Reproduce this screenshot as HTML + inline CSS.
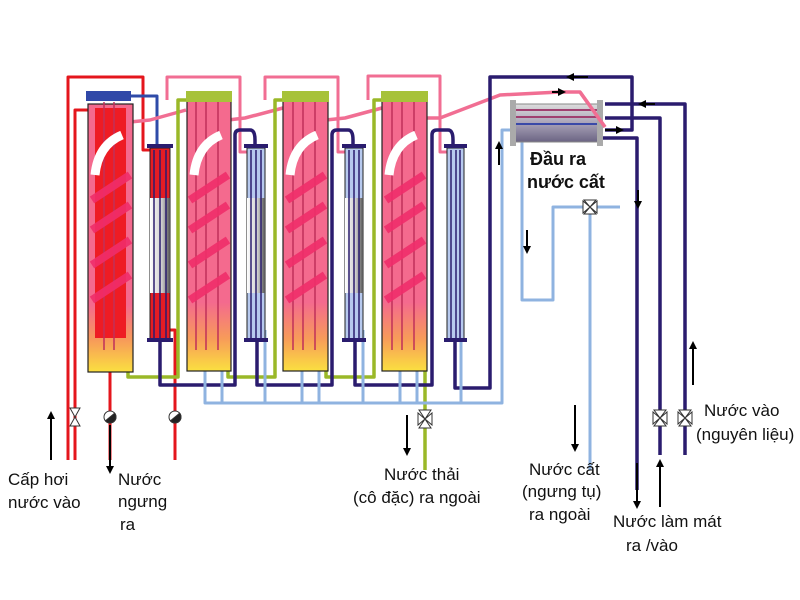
<!DOCTYPE html>
<html><head><meta charset="utf-8"><style>
html,body{margin:0;padding:0;background:#fff;width:800px;height:600px;overflow:hidden}
svg{display:block}
text{font-family:"Liberation Sans","DejaVu Sans",sans-serif;fill:#111}
</style></head><body>
<svg width="800" height="600" viewBox="0 0 800 600" xmlns="http://www.w3.org/2000/svg">
<defs>
<linearGradient id="col" x1="0" y1="0" x2="0" y2="1">
<stop offset="0" stop-color="#f46a8e"/><stop offset="0.75" stop-color="#f46a8e"/><stop offset="0.88" stop-color="#f79a5a"/><stop offset="1" stop-color="#fbe040"/>
</linearGradient>
<linearGradient id="grey" x1="0" y1="0" x2="1" y2="0">
<stop offset="0" stop-color="#fff"/><stop offset="0.6" stop-color="#ccc"/><stop offset="1" stop-color="#555"/>
</linearGradient>
<linearGradient id="hx" x1="0" y1="0" x2="0" y2="1">
<stop offset="0" stop-color="#ddd"/><stop offset="0.5" stop-color="#a9a3b8"/><stop offset="1" stop-color="#6b6483"/>
</linearGradient>
<marker id="ar" viewBox="0 0 10 10" refX="5" refY="5" markerWidth="4" markerHeight="4" orient="auto"><path d="M0,0L10,5L0,10z" fill="#000"/></marker>
</defs>
<g fill="none" stroke-linejoin="round">
<path d="M68,460 V77 H143 V150 H150" stroke="#e4161c" stroke-width="3"/>
<path d="M75,460 V110 H90" stroke="#e4161c" stroke-width="3"/>
<path d="M110,460 V340" stroke="#e4161c" stroke-width="3"/>
<path d="M175,460 V330 H168" stroke="#e4161c" stroke-width="3"/>
<path d="M130,96 H157 V145" stroke="#2f4ba8" stroke-width="3"/>
<path d="M167,100 V77 H240 V152 H247" stroke="#f16e93" stroke-width="3"/>
<path d="M265,100 V77 H338 V152 H345" stroke="#f16e93" stroke-width="3"/>
<path d="M368,100 V76 H440 V152 H447" stroke="#f16e93" stroke-width="3"/>
<path d="M130,122 L150,120 L186,110 M228,120 L245,118 L283,108 M326,120 L345,118 L382,108 M425,118 L440,118 L500,95 L560,92 L580,92 L605,127" stroke="#f16e93" stroke-width="3.5"/>
<path d="M128,370 V377 H178 V100 H187" stroke="#9ab828" stroke-width="3.5"/>
<path d="M228,370 V377 H275 V100 H283" stroke="#9ab828" stroke-width="3.5"/>
<path d="M326,370 V377 H374 V100 H382" stroke="#9ab828" stroke-width="3.5"/>
<path d="M425,370 V470" stroke="#9ab828" stroke-width="3.5"/>
<path d="M160,342 V385 H235 V135 Q235,130 240,130 H250 Q255,130 255,140 V145" stroke="#2a1c6e" stroke-width="3.5"/>
<path d="M257,342 V385 H332 V135 Q332,130 337,130 H348 Q353,130 353,140 V145" stroke="#2a1c6e" stroke-width="3.5"/>
<path d="M355,342 V385 H432 V135 Q432,130 437,130 H448 Q453,130 453,140 V145" stroke="#2a1c6e" stroke-width="3.5"/>
<path d="M455,342 V388 H490 V77 H632 V130 H605" stroke="#2a1c6e" stroke-width="3.5"/>
<path d="M600,138 H637 V490" stroke="#2a1c6e" stroke-width="3.5"/>
<path d="M605,118 H660 V455" stroke="#2a1c6e" stroke-width="3.5"/>
<path d="M605,104 H685 V455" stroke="#2a1c6e" stroke-width="3.5"/>
<g stroke="#8fb3e0" stroke-width="3">
<path d="M205,360 V403 H502 V130 H515"/>
<path d="M222,360 V403 M302,360 V403 M319,360 V403 M400,360 V403 M417,360 V403 M265,330 V403 M363,330 V403 M461,330 V403"/>
<path d="M522,135 V300 H553 V207 H620"/>
<path d="M590,207 V470"/>
</g>
</g>
<g stroke="#222" stroke-width="1.2">
<rect x="88" y="104" width="45" height="268" fill="url(#col)"/>
<rect x="95" y="108" width="31" height="230" fill="#ee1c24" stroke="none"/>
<rect x="187" y="96" width="44" height="275" fill="url(#col)"/>
<rect x="283" y="96" width="45" height="275" fill="url(#col)"/>
<rect x="382" y="96" width="45" height="275" fill="url(#col)"/>
</g>
<rect x="86" y="91" width="45" height="10" fill="#3048a8"/>
<rect x="186" y="91" width="46" height="11" fill="#a7c23a"/>
<rect x="282" y="91" width="47" height="11" fill="#a7c23a"/>
<rect x="381" y="91" width="47" height="11" fill="#a7c23a"/>
<g stroke="#c0305a" stroke-width="1.5" fill="none">
<path d="M104,102V350M114,102V350M196,102V350M206,102V350M218,102V350M293,102V350M303,102V350M315,102V350M392,102V350M402,102V350M414,102V350"/>
</g>
<g stroke="#f02e6a" stroke-width="8" fill="none" opacity="0.9">
<path d="M92,200L130,175M92,230L130,205M92,265L130,240M92,300L130,275"/>
<path d="M190,200L228,175M190,230L228,205M190,265L228,240M190,300L228,275"/>
<path d="M287,200L325,175M287,230L325,205M287,265L325,240M287,300L325,275"/>
<path d="M386,200L424,175M386,230L424,205M386,265L424,240M386,300L424,275"/>
</g>
<g stroke="#fff" stroke-width="9" fill="none">
<path d="M95,175 Q98,145 122,135M194,175 Q197,145 221,135M290,175 Q293,145 317,135M389,175 Q392,145 416,135"/>
</g>
<g>
<rect x="150" y="148" width="20" height="192" fill="#e41c24" stroke="#222"/>
<rect x="150" y="198" width="20" height="95" fill="url(#grey)"/>
<rect x="247" y="148" width="18" height="192" fill="#b7c9ee" stroke="#222"/>
<rect x="247" y="198" width="18" height="95" fill="url(#grey)"/>
<rect x="345" y="148" width="18" height="192" fill="#b7c9ee" stroke="#222"/>
<rect x="345" y="198" width="18" height="95" fill="url(#grey)"/>
<rect x="447" y="148" width="17" height="192" fill="#b7c9ee" stroke="#222"/>
<path d="M154,150V338M160,150V338M166,150V338M251,150V338M256,150V338M261,150V338M349,150V338M354,150V338M359,150V338M451,150V338M456,150V338M460,150V338" stroke="#2a1c6e" stroke-width="1.5"/>
<rect x="147" y="144" width="26" height="4" fill="#2a1c6e"/><rect x="147" y="338" width="26" height="4" fill="#2a1c6e"/>
<rect x="244" y="144" width="24" height="4" fill="#2a1c6e"/><rect x="244" y="338" width="24" height="4" fill="#2a1c6e"/>
<rect x="342" y="144" width="24" height="4" fill="#2a1c6e"/><rect x="342" y="338" width="24" height="4" fill="#2a1c6e"/>
<rect x="444" y="144" width="23" height="4" fill="#2a1c6e"/><rect x="444" y="338" width="23" height="4" fill="#2a1c6e"/>
</g>
<rect x="512" y="104" width="90" height="38" fill="url(#hx)" stroke="#888"/>
<rect x="510" y="100" width="6" height="46" fill="#aaa"/><rect x="597" y="100" width="6" height="46" fill="#aaa"/>
<path d="M516,110H597M516,117H597" stroke="#a04070" stroke-width="2"/>
<path d="M516,124H597" stroke="#3a4aa8" stroke-width="2"/>
<path d="M580,92 L605,127" stroke="#f16e93" stroke-width="3.5"/>
<g fill="#fff" stroke="#333" stroke-width="1">
<path d="M70,408 L80,408 L75,417 Z M70,426 L80,426 L75,417 Z"/>
<circle cx="110" cy="417" r="6"/><path d="M104,417 A6,6 0 0,0 116,417 Z" fill="#222" transform="rotate(-40 110 417)"/>
<circle cx="175" cy="417" r="6"/><path d="M169,417 A6,6 0 0,0 181,417 Z" fill="#222" transform="rotate(-40 175 417)"/>
<path d="M419,410 H431 L425,419 Z M419,428 H431 L425,419 Z M418,413 V425 L425,419 Z M432,413 V425 L425,419 Z"/>
<path d="M584,200 H596 L590,207 Z M584,214 H596 L590,207 Z M583,201 V213 L590,207 Z M597,201 V213 L590,207 Z"/>
<path d="M654,410 H666 L660,418 Z M654,426 H666 L660,418 Z M653,412 V424 L660,418 Z M667,412 V424 L660,418 Z"/>
<path d="M679,410 H691 L685,418 Z M679,426 H691 L685,418 Z M678,412 V424 L685,418 Z M692,412 V424 L685,418 Z"/>
</g>
<g stroke="#000" stroke-width="2" marker-end="url(#ar)">
<path d="M51,460 V415"/><path d="M110,425 V470"/><path d="M407,415 V452"/>
<path d="M575,405 V448"/><path d="M637,463 V505"/><path d="M660,507 V463"/>
<path d="M693,385 V345"/><path d="M527,230 V250"/><path d="M499,165 V145"/>
<path d="M638,190 V205"/><path d="M588,77 H570"/><path d="M655,104 H642"/>
<path d="M552,92 H562"/><path d="M605,130 H620"/>
</g>
<g font-size="17">
<text x="8" y="485">Cấp hơi</text><text x="8" y="508">nước vào</text>
<text x="118" y="485">Nước</text><text x="118" y="507">ngưng</text><text x="120" y="530">ra</text>
<text x="384" y="480">Nước thải</text><text x="353" y="503">(cô đặc) ra ngoài</text>
<text x="529" y="475">Nước cất</text><text x="522" y="497">(ngưng tụ)</text><text x="529" y="520">ra ngoài</text>
<text x="613" y="527">Nước làm mát</text><text x="626" y="551">ra /vào</text>
<text x="704" y="416">Nước vào</text><text x="696" y="440">(nguyên liệu)</text>
<text x="530" y="165" font-weight="bold" font-size="18">Đầu ra</text>
<text x="527" y="188" font-weight="bold" font-size="18">nước cất</text>
</g>
</svg>
</body></html>
